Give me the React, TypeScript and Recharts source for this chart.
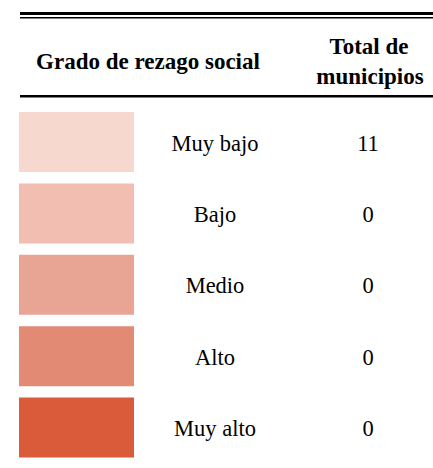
import React from 'react';
import { BarChart, Bar, XAxis, YAxis, Cell, LabelList } from 'recharts';

const grados = ['Muy bajo', 'Bajo', 'Medio', 'Alto', 'Muy alto'];
const totales = [11, 0, 0, 0, 0];

const COLORS = ['#F6D8CF', '#F1BEB1', '#E9A594', '#E38A74', '#D95B3A'];
const FONT = '"Liberation Serif", "Times New Roman", serif';

const data = grados.map((grado, i) => ({ grado, total: totales[i] }));

const GradoLabel = (props: any) => {
    const { x, y, height, value } = props;
    return (
        <text x={x + 196} y={y + height / 2 + 1} textAnchor="middle" dominantBaseline="central"
            fontFamily={FONT} fontSize={22.5} fill="#000">{value}</text>
    );
};

const TotalLabel = (props: any) => {
    const { x, y, height, value } = props;
    return (
        <text x={x + 349} y={y + height / 2 + 1} textAnchor="middle" dominantBaseline="central"
            fontFamily={FONT} fontSize={22.5} fill="#000">{value}</text>
    );
};

export default function App() {
    return (
        <div style={{ position: 'absolute', left: 0, top: 0, width: 433, height: 468, background: '#fff' }}>
            <svg width={433} height={110} style={{ position: 'absolute', left: 0, top: 0 }}>
                <rect x={20} y={12} width={413} height={3} fill="#000" />
                <rect x={20} y={17} width={413} height={1.5} fill="#000" />
                <text x={148} y={61} textAnchor="middle" dominantBaseline="central"
                    fontFamily={FONT} fontSize={23} fontWeight="bold">Grado de rezago social</text>
                <text x={369} y={46} textAnchor="middle" dominantBaseline="central"
                    fontFamily={FONT} fontSize={23} fontWeight="bold">Total de</text>
                <text x={370} y={76} textAnchor="middle" dominantBaseline="central"
                    fontFamily={FONT} fontSize={23} fontWeight="bold">municipios</text>
                <rect x={20} y={95} width={413} height={2.5} fill="#000" />
            </svg>
            <div style={{ position: 'absolute', left: 0, top: 0 }}>
                <BarChart width={433} height={468} data={data} layout="vertical"
                    margin={{ top: 106, right: 299, bottom: 5, left: 19 }}>
                    <XAxis type="number" domain={[0, 1]} hide />
                    <YAxis type="category" dataKey="grado" hide />
                    <Bar dataKey={() => 1} barSize={60} isAnimationActive={false}>
                        {data.map((entry, index) => (
                            <Cell key={`cell-${index}`} fill={COLORS[index % COLORS.length]} />
                        ))}
                        <LabelList dataKey="grado" content={<GradoLabel />} />
                        <LabelList dataKey="total" content={<TotalLabel />} />
                    </Bar>
                </BarChart>
            </div>
        </div>
    );
}
